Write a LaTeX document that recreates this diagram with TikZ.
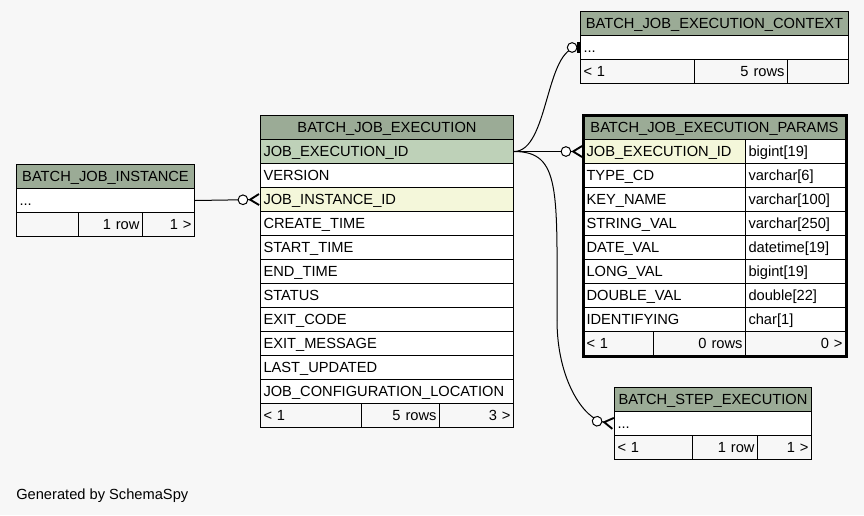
\documentclass[tikz,border=0pt]{standalone}
\usepackage{fontspec}
\setmainfont{Liberation Sans}
\usetikzlibrary{arrows.meta}

\newlength{\du}
\setlength{\du}{0.75pt}

\definecolor{bgcolor}{rgb}{0.968627, 0.968627, 0.968627}
\definecolor{headcolor}{rgb}{0.607843, 0.670588, 0.588235}
\definecolor{keycolor}{rgb}{0.745098, 0.819608, 0.721569}
\definecolor{idxcolor}{rgb}{0.956863, 0.968627, 0.854902}

\tikzset{
  cell/.style={draw=black, line width=1\du, anchor=north west, fill=white,
    inner xsep=3\du, inner ysep=0pt, minimum height=24\du,
    text height=7.9pt, text depth=0pt, text width=#1, align=left,
    font=\fontsize{11}{13}\selectfont},
  headcell/.style={cell=#1, fill=headcolor, align=center},
  keycell/.style={cell=#1, fill=keycolor},
  idxcell/.style={cell=#1, fill=idxcolor},
  footcell/.style={cell=#1, fill=bgcolor},
  footright/.style={cell=#1, fill=bgcolor, align=right},
  rel/.style={line width=1\du, draw=black},
  % 1px = 0.75pt
  crowodot/.style={rel, -{Circle[open, fill=white, length=8pt, width=8pt, line width=0.75pt] Straight Barb[reversed, length=6.75pt, width=8.25pt, line width=1.4pt]}},
  teeodot/.style={rel, -{Circle[open, fill=white, length=8pt, width=8pt, line width=0.75pt] Bar[width=8.25pt, line width=1.9pt]}}
}

\begin{document}
\begin{tikzpicture}[x=\du, y=-\du]
\fill[bgcolor] (0,0) rectangle (864,515);
\useasboundingbox (0,0) rectangle (864,515);

% BATCH_JOB_INSTANCE
\node[headcell=172\du] (inst-head) at (16,164) {BATCH\_JOB\_INSTANCE};
\node[cell=172\du] (inst-row) at (16,188) {...};
\node[footcell=56\du] (inst-f1) at (16,212) {};
\node[footright=58\du] (inst-f2) at (78,212) {1 row};
\node[footright=46\du] (inst-f3) at (142,212) {1 >};

% BATCH_JOB_EXECUTION
\node[headcell=247\du] (exec-head) at (260,115) {BATCH\_JOB\_EXECUTION};
\node[keycell=247\du] (exec-id) at (260,139) {JOB\_EXECUTION\_ID};
\node[cell=247\du] (exec-version) at (260,163) {VERSION};
\node[idxcell=247\du] (exec-inst) at (260,187) {JOB\_INSTANCE\_ID};
\node[cell=247\du] (exec-create) at (260,211) {CREATE\_TIME};
\node[cell=247\du] (exec-start) at (260,235) {START\_TIME};
\node[cell=247\du] (exec-end) at (260,259) {END\_TIME};
\node[cell=247\du] (exec-status) at (260,283) {STATUS};
\node[cell=247\du] (exec-code) at (260,307) {EXIT\_CODE};
\node[cell=247\du] (exec-msg) at (260,331) {EXIT\_MESSAGE};
\node[cell=247\du] (exec-upd) at (260,355) {LAST\_UPDATED};
\node[cell=247\du] (exec-loc) at (260,379) {JOB\_CONFIGURATION\_LOCATION};
\node[footcell=95\du] (exec-f1) at (260,403) {< 1};
\node[footright=72\du] (exec-f2) at (361,403) {5 rows};
\node[footright=68\du] (exec-f3) at (439,403) {3 >};

% BATCH_JOB_EXECUTION_CONTEXT
\node[headcell=262\du] (ctx-head) at (580,11) {BATCH\_JOB\_EXECUTION\_CONTEXT};
\node[cell=262\du] (ctx-row) at (580,35) {...};
\node[footcell=108\du] (ctx-f1) at (580,59) {< 1};
\node[footright=87\du] (ctx-f2) at (694,59) {5 rows};
\node[footcell=55\du] (ctx-f3) at (787,59) {};

% BATCH_JOB_EXECUTION_PARAMS
\node[headcell=256\du] (par-head) at (583,115) {BATCH\_JOB\_EXECUTION\_PARAMS};
\node[idxcell=156\du] (par-id) at (583,139) {JOB\_EXECUTION\_ID};
\node[cell=94\du] (par-id-t) at (745,139) {bigint[19]};
\node[cell=156\du] (par-type) at (583,163) {TYPE\_CD};
\node[cell=94\du] (par-type-t) at (745,163) {varchar[6]};
\node[cell=156\du] (par-key) at (583,187) {KEY\_NAME};
\node[cell=94\du] (par-key-t) at (745,187) {varchar[100]};
\node[cell=156\du] (par-str) at (583,211) {STRING\_VAL};
\node[cell=94\du] (par-str-t) at (745,211) {varchar[250]};
\node[cell=156\du] (par-date) at (583,235) {DATE\_VAL};
\node[cell=94\du] (par-date-t) at (745,235) {datetime[19]};
\node[cell=156\du] (par-long) at (583,259) {LONG\_VAL};
\node[cell=94\du] (par-long-t) at (745,259) {bigint[19]};
\node[cell=156\du] (par-dbl) at (583,283) {DOUBLE\_VAL};
\node[cell=94\du] (par-dbl-t) at (745,283) {double[22]};
\node[cell=156\du] (par-ident) at (583,307) {IDENTIFYING};
\node[cell=94\du] (par-ident-t) at (745,307) {char[1]};
\node[footcell=64\du] (par-f1) at (583,331) {< 1};
\node[footright=86\du] (par-f2) at (653,331) {0 rows};
\node[footright=94\du] (par-f3) at (745,331) {0 >};
\draw[line width=3\du] (par-head.north west) rectangle (par-f3.south east);

% BATCH_STEP_EXECUTION
\node[headcell=191\du] (step-head) at (614,387) {BATCH\_STEP\_EXECUTION};
\node[cell=191\du] (step-row) at (614,411) {...};
\node[footcell=72\du] (step-f1) at (614,435) {< 1};
\node[footright=59\du] (step-f2) at (692,435) {1 row};
\node[footright=48\du] (step-f3) at (757,435) {1 >};

% relations
\coordinate (step-bend) at (557,320);
\draw[crowodot] (inst-row.east) -- (exec-inst.west);
\draw[teeodot] (exec-id.east) .. controls +(35,0) and +(-35,0) .. (ctx-row.west);
\draw[crowodot] (exec-id.east) -- (par-id.west);
\draw[rel] (exec-id.east) .. controls +(47,0) and +(0,-130) .. (step-bend);
\draw[crowodot] (step-bend) .. controls +(0,60) and +(-30,-4) .. (step-row.west);

\node[anchor=base west, inner sep=0pt, font=\fontsize{11}{13}\selectfont] (gen) at (16,499) {Generated by SchemaSpy};
\end{tikzpicture}
\end{document}
